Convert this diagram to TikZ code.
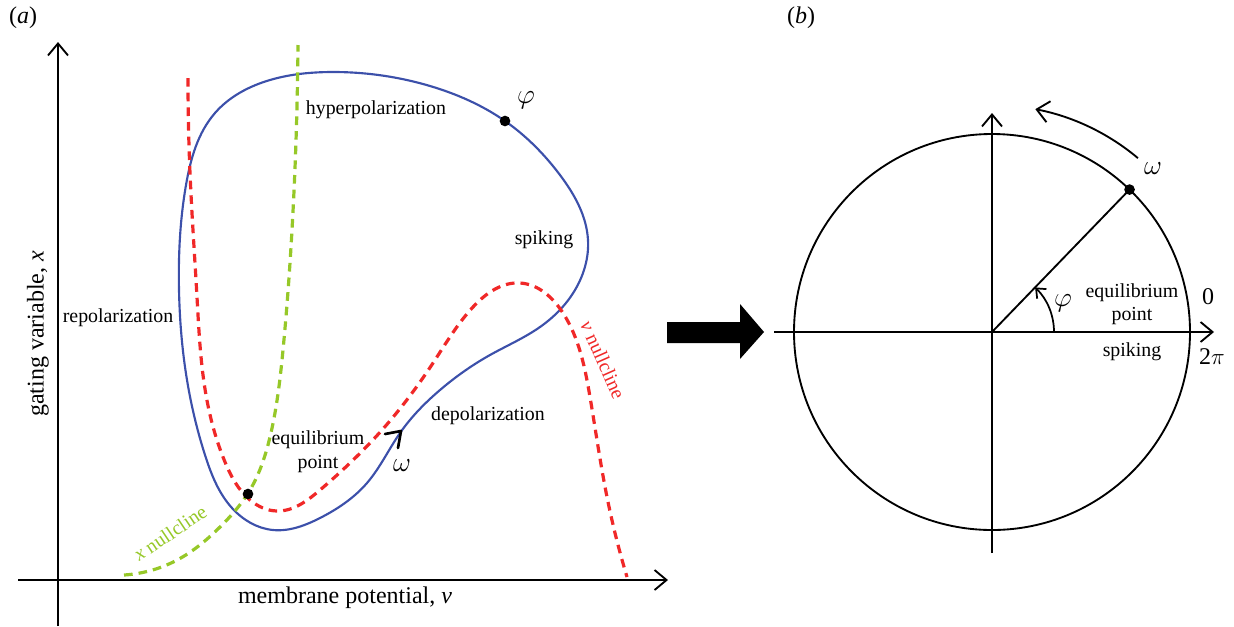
\documentclass[tikz,border=0pt]{standalone}
\usepackage{fontspec}
\setmainfont{Liberation Serif}
\usetikzlibrary{arrows.meta,calc,hobby}
\definecolor{cblue}{RGB}{60,80,170}
\definecolor{cred}{RGB}{240,40,40}
\definecolor{cgreen}{RGB}{150,200,40}
\tikzset{
  axis/.style={line width=1.4pt,-{Straight Barb[length=9pt,width=15pt,line width=1.4pt]}},
  lbl/.style={font=\fontsize{14.9}{17}\selectfont, inner sep=0pt},
  big/.style={font=\fontsize{18}{21}\selectfont, inner sep=0pt},
  greek/.style={font=\fontsize{22}{24}\selectfont, inner sep=0pt},
  nullc/.style={line width=2.4pt, dash pattern=on 6.5pt off 4.5pt},
  dotmark/.style={circle, fill=black, inner sep=0pt, minimum size=8pt}
}
\begin{document}
\begin{tikzpicture}[x=0.75pt,y=-0.75pt]
\useasboundingbox (0,0) rectangle (1234,626);
% ---------------- panel (a)
\node[big] (la) at (23,18) {(\textit{a})};
\coordinate (yb) at (58,626);
\coordinate (yt) at (58,42);
\coordinate (xl) at (18,580);
\coordinate (xr) at (668,580);
\draw[axis] (yb) -- (yt);
\draw[axis] (xl) -- (xr);
\node[big] (xlab) at (345,598) {membrane potential, \textit{v}};
\node[big, rotate=90] (ylab) at (38,334) {gating variable, \textit{x}};
% limit cycle
\draw[cblue, line width=1.6pt] plot[closed hobby] coordinates {
 (333,72) (430,86) (505,121) (560,175) (588,240) (575,290) (540,327) (490,355)
 (440,390) (400,433) (367,483) (320,518) (273,530) (232,508) (205,455) (187,380)
 (179,290) (186,185) (215,113) (270,80)};
% v nullcline
\draw[cred, nullc] plot[hobby] coordinates {
 (188,78) (190,173) (197,297) (206,395) (225,462) (250,500) (277,511) (320,490)
 (382,430) (433,363) (473,307) (520,283) (563,313) (590,397) (607,497) (627,577)};
% x nullcline
\draw[cgreen, nullc] plot[hobby] coordinates {
 (124,575) (179,559) (220,527) (250,490) (270,437) (283,350) (292,230) (298,45)};
\node[dotmark] (eq) at (248,494) {};
\node[dotmark] (ph) at (505,121) {};
% omega chevron
\draw[line width=2pt, line join=round, line cap=round] (385,434) -- (401,431) -- (398,448);
\node[lbl] (hyp) at (376,110) {hyperpolarization};
\node[greek] (phia) at (526,100) {$\varphi$};
\node[lbl] (spk) at (544,240) {spiking};
\node[lbl] (rep) at (118,318) {repolarization};
\node[lbl] (dep) at (488,416) {depolarization};
\node[lbl] (eqa) at (318,440) {equilibrium};
\node[lbl] (pta) at (318,464) {point};
\node[greek] (oma) at (402,466) {$\omega$};
\node[lbl, text=cred, rotate=-66] (vnl) at (603,360) {\textit{v} nullcline};
\node[lbl, text=cgreen, rotate=34] (xnl) at (170,533) {\textit{x} nullcline};
% big arrow
\fill (667,322) -- (740,322) -- (740,304) -- (764,332) -- (740,359) -- (740,343) -- (667,343) -- cycle;
% ---------------- panel (b)
\node[big] (lb) at (801,18) {(\textit{b})};
\coordinate (O) at (992,332);
\draw[line width=1.4pt] (O) circle (198);
\coordinate (hl) at (774,332);
\coordinate (hr) at (1214,332);
\coordinate (vb) at (992,553);
\coordinate (vt) at (992,113);
\draw[axis] (hl) -- (hr);
\draw[axis] (vb) -- (vt);
\coordinate (P) at ($(O)+(-46:198)$);
\draw[line width=1.4pt] (O) -- (P);
\node[dotmark] (pd) at (P) {};
\draw[line width=1.3pt,-{Straight Barb[length=6pt,width=10pt,line width=1.3pt]}] ($(O)+(62,0)$) arc[start angle=0,end angle=-46,radius=62];
\draw[line width=1.4pt,-{Straight Barb[length=9pt,width=16pt,line width=1.4pt]}] ($(O)+(-50:227)$) arc[start angle=-50,end angle=-79,radius=227];
\node[greek] (omb) at (1153,169) {$\omega$};
\node[greek] (phib) at (1063,303) {$\varphi$};
\node[lbl] (eqb) at (1132,293) {equilibrium};
\node[lbl] (ptb) at (1132,316) {point};
\node[lbl] (spb) at (1132,352) {spiking};
\node[big] (zero) at (1208,297) {0};
\node[big] (tpi) at (1212,357) {2$\pi$};
\end{tikzpicture}
\end{document}
